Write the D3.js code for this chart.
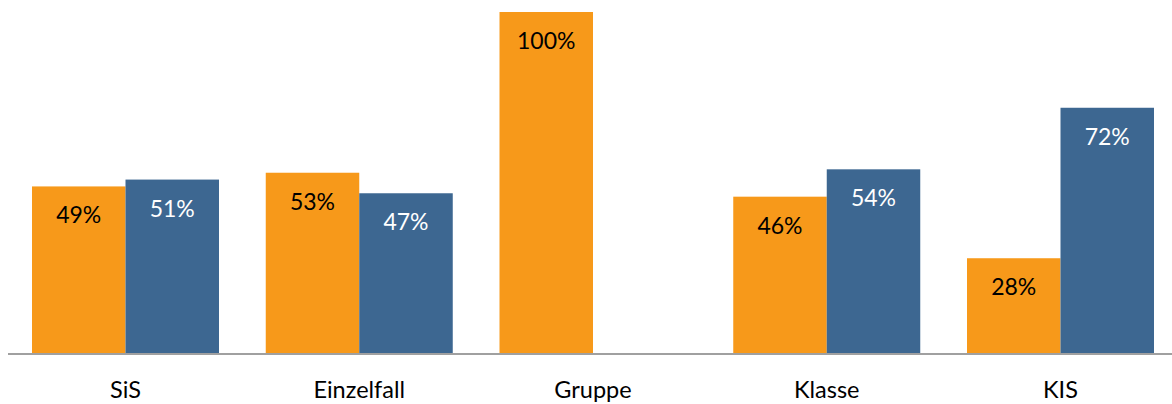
<!DOCTYPE html>
<html><head><meta charset="utf-8">
<script src="https://cdn.jsdelivr.net/npm/d3@7"></script>
<style>body{margin:0;background:#fff}svg{display:block}</style>
</head><body>
<svg id="c" width="1172" height="404"></svg>
<script>
const categories = ["SiS", "Einzelfall", "Gruppe", "Klasse", "KIS"];
const seriesA = [49, 53, 100, 46, 28];
const seriesB = [51, 47, null, 54, 72];
const seriesNames = ["A", "B"];
const colors = ["#F7991A", "#3D6791"];
const textColors = ["#000000", "#FFFFFF"];

const svg = d3.select("#c");
const axisLeft = 8, axisRight = 1172, plotBase = 354, plotTop = 12;
const step = 233.75;
const bandStart = 32 - 0.1 * step;
const font = "Lato, 'Open Sans', sans-serif";

const x = d3.scaleBand().domain(categories)
  .range([bandStart, bandStart + step * categories.length])
  .paddingInner(0.2).paddingOuter(0.1);
const xs = d3.scaleBand().domain(seriesNames).range([0, x.bandwidth()]);
const y = d3.scaleLinear().domain([0, 100]).range([plotBase, plotTop]);

const data = [];
categories.forEach((c, i) => {
  [seriesA, seriesB].forEach((s, j) => {
    if (s[i] != null) data.push({c, s: seriesNames[j], j, v: s[i]});
  });
});

svg.selectAll("rect.bar").data(data).enter().append("rect")
  .attr("class", "bar")
  .attr("x", d => x(d.c) + xs(d.s))
  .attr("width", xs.bandwidth())
  .attr("y", d => y(d.v))
  .attr("height", d => plotBase - y(d.v))
  .attr("fill", d => colors[d.j]);

svg.selectAll("text.lbl").data(data).enter().append("text")
  .attr("class", "lbl")
  .attr("x", d => x(d.c) + xs(d.s) + xs.bandwidth() / 2)
  .attr("y", d => y(d.v) + 37)
  .attr("text-anchor", "middle")
  .attr("font-family", font)
  .attr("font-size", 23)
  .attr("fill", d => textColors[d.j])
  .text(d => d.v + "%");

const axis = d3.axisBottom(x).tickSize(0).tickPadding(0);
const g = svg.append("g").attr("transform", `translate(0,${plotBase})`).call(axis);
g.select(".domain").attr("stroke", "#A0A0A0").attr("stroke-width", 2).attr("d", `M${axisLeft},0H${axisRight}`);
g.selectAll(".tick text").attr("font-family", font).attr("font-size", 23.5).attr("fill", "#000").attr("y", 44).attr("dy", "0");
</script>
</body></html>
